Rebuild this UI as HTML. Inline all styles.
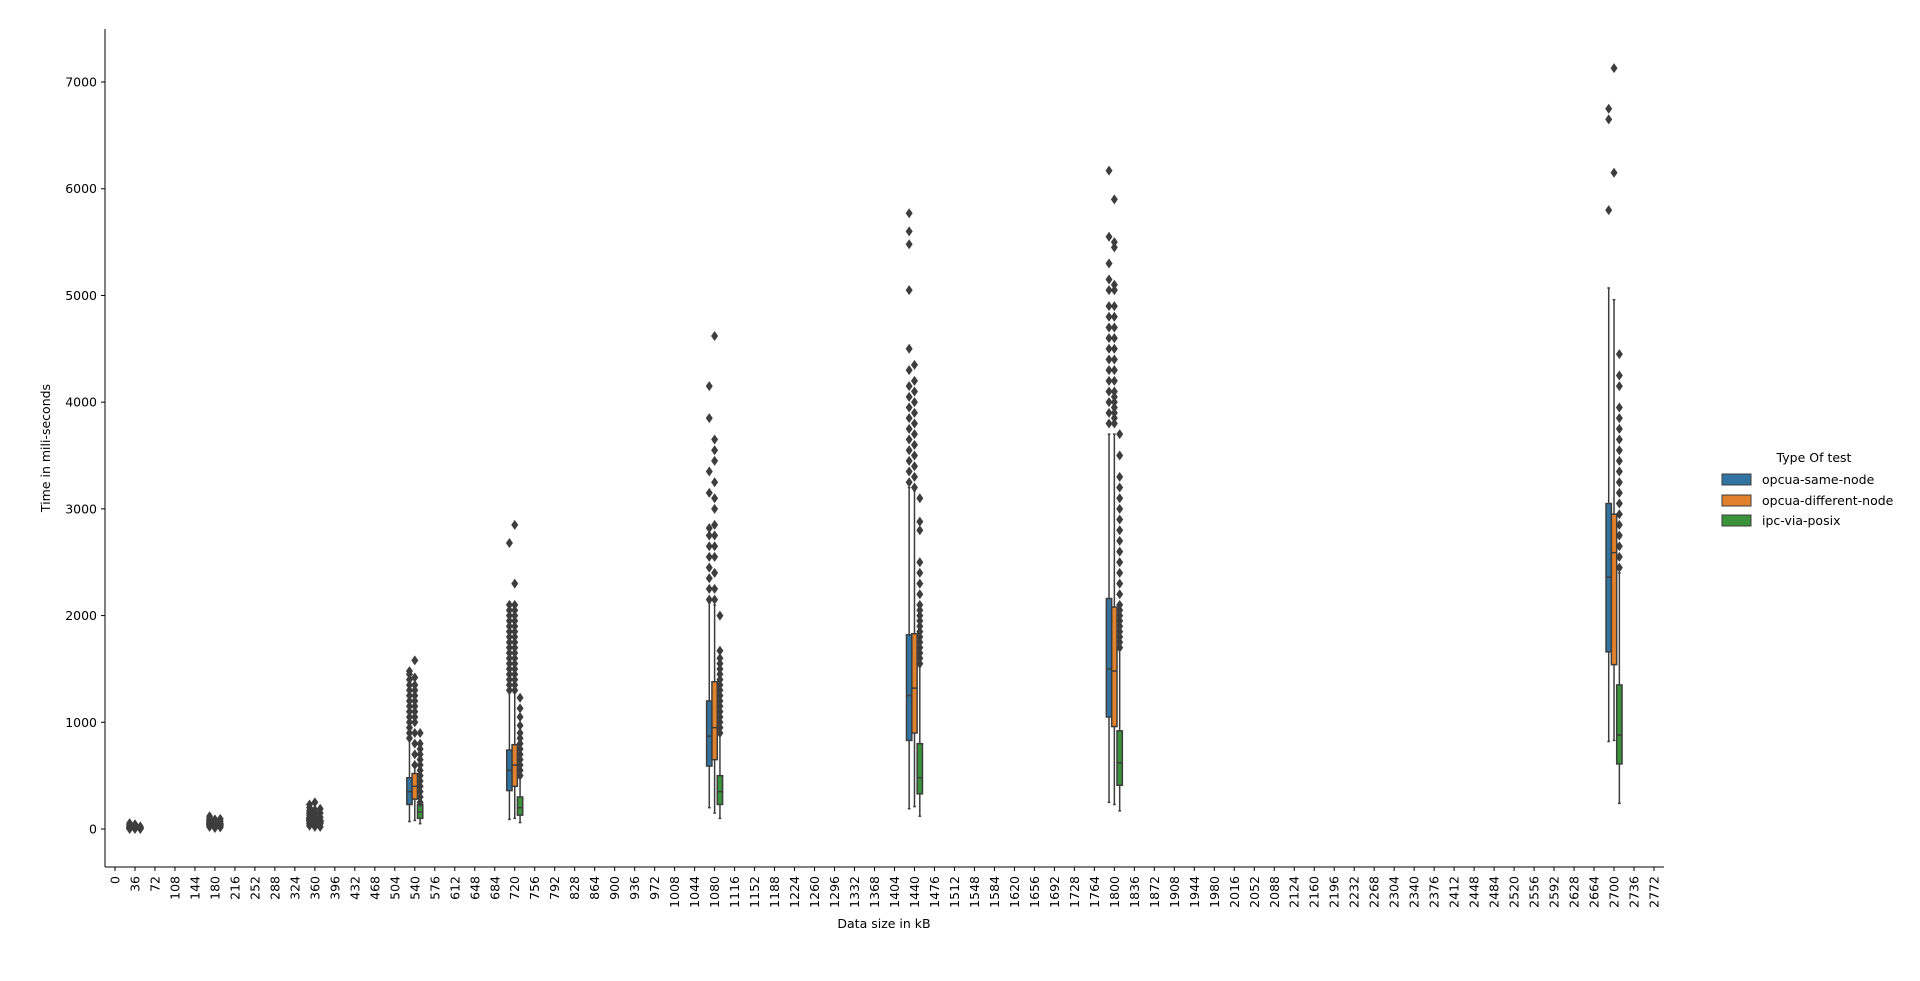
<!DOCTYPE html>
<html><head><meta charset="utf-8">
<style>
html,body{margin:0;padding:0;background:#fff;}
svg{display:block;font-family:"DejaVu Sans","Liberation Sans",sans-serif;}
</style></head>
<body>
<svg id="chart" width="1920" height="981" viewBox="0 0 1920 981" xmlns="http://www.w3.org/2000/svg">
<g id="plot"></g>
<g id="axes"></g>
<text x="884" y="928" font-size="12.5" text-anchor="middle" fill="#000">Data size in kB</text>
<text x="0" y="0" font-size="12.5" text-anchor="middle" fill="#000" transform="translate(50,448) rotate(-90)">Time in mili-seconds</text>
<g>
<text x="1814" y="462" font-size="12.5" text-anchor="middle" fill="#000">Type Of test</text>
<g><rect x="1722" y="474" width="29" height="11" fill="#3274a1" stroke="#3d3d3d" stroke-width="1"/><text x="1762" y="484" font-size="12.5" fill="#000">opcua-same-node</text></g>
<g><rect x="1722" y="495" width="29" height="11" fill="#e1812c" stroke="#3d3d3d" stroke-width="1"/><text x="1762" y="505" font-size="12.5" fill="#000">opcua-different-node</text></g>
<g><rect x="1722" y="515" width="29" height="11" fill="#3a923a" stroke="#3d3d3d" stroke-width="1"/><text x="1762" y="525" font-size="12.5" fill="#000">ipc-via-posix</text></g>
</g>
</svg>
<script>
// ---- data ----
const tickLabels = [];
for (let i = 0; i <= 77; i++) tickLabels.push(String(i * 36));
const dataCats = [1, 5, 10, 15, 20, 30, 40, 50, 75]; // category indices 36,180,360,540,720,1080,1440,1800,2700
const yTicks = [0, 1000, 2000, 3000, 4000, 5000, 6000, 7000];
const hues = ['opcua-same-node', 'opcua-different-node', 'ipc-via-posix'];
const hueColors = ['#3274a1', '#e1812c', '#3a923a'];
// [lo, q1, med, q3, hi] per category per hue
const statsSame = [[5,10,15,20,25],[40,45,50,55,60],[70,80,90,100,110],[70,230,350,480,840],[90,360,550,740,1280],[200,590,870,1200,2120],[190,830,1250,1820,3200],[250,1050,1500,2160,3700],[820,1660,2360,3050,5070]];
const statsDiff = [[5,10,12,18,22],[35,40,45,50,55],[60,70,80,95,105],[80,280,400,520,580],[100,400,600,790,1280],[150,650,950,1380,2100],[210,900,1320,1830,3170],[230,960,1480,2080,3700],[830,1540,2590,2950,4960]];
const statsIpc = [[3,5,8,10,12],[30,35,40,45,50],[50,60,70,80,90],[50,100,160,230,240],[60,130,200,300,480],[100,230,350,500,880],[120,330,480,800,1520],[170,410,620,920,1680],[240,610,880,1350,2400]];
const outSame = [[0,5,10,15,20,30,40,55],[20,30,40,50,60,70,80,90,100,120],[30,50,70,90,110,130,150,170,200,230],[850,900,950,1000,1050,1100,1150,1200,1250,1300,1350,1400,1450,1480],[1300,1350,1400,1450,1500,1550,1600,1650,1700,1750,1800,1850,1900,1950,2000,2050,2100,2680],[2150,2250,2350,2450,2550,2650,2750,2820,3150,3350,3850,4150],[3250,3350,3450,3550,3650,3750,3850,3950,4050,4150,4300,4500,5050,5480,5600,5770],[3800,3900,4000,4100,4200,4300,4400,4500,4600,4700,4800,4900,5050,5150,5300,5550,6170],[5800,6650,6750]];
const outDiff = [[0,10,20,30,45],[10,25,40,55,70,90],[20,40,60,80,100,120,140,160,180,250],[600,700,800,900,1000,1050,1100,1150,1200,1250,1300,1350,1420,1580],[1300,1350,1400,1450,1500,1550,1600,1650,1700,1750,1800,1850,1900,1950,2000,2050,2100,2300,2850],[2150,2250,2400,2550,2650,2750,2850,3000,3100,3250,3450,3550,3650,4620],[3200,3300,3400,3500,3600,3700,3800,3900,4000,4100,4200,4350],[3800,3850,3900,3950,4000,4050,4100,4200,4300,4400,4500,4600,4700,4800,4900,5050,5100,5450,5500,5900],[6150,7130]];
const outIpc = [[0,8,15,25],[15,30,50,70,95],[20,50,80,110,150,190],[250,300,350,400,450,500,550,600,650,700,750,800,900],[500,550,600,650,700,750,800,850,900,970,1050,1130,1230],[900,950,1000,1050,1100,1150,1200,1250,1300,1350,1400,1450,1500,1550,1600,1670,2000],[1550,1600,1650,1700,1750,1800,1850,1900,1950,2000,2050,2100,2200,2300,2400,2500,2800,2880,3100],[1700,1750,1800,1850,1900,1950,2000,2050,2100,2200,2300,2400,2500,2600,2700,2800,2900,3000,3100,3200,3300,3500,3700],[2450,2550,2650,2750,2850,2950,3050,3150,3250,3350,3450,3550,3650,3750,3850,3950,4150,4250,4450]];

// ---- scales ----
const X0 = 105, X1 = 1664, Y0 = 867, Y1 = 29;
const yMin = -356, yMax = 7497;
const nCat = tickLabels.length;
const step = (X1 - X0) / nCat;
function xScale(i) { return X0 + (i + 0.5) * step; }
function yScale(v) { return Y0 - (v - yMin) / (yMax - yMin) * (Y0 - Y1); }
const NS = 'http://www.w3.org/2000/svg';
function mk(tag, attrs, parent) { const e = document.createElementNS(NS, tag); for (const k in attrs) e.setAttribute(k, attrs[k]); parent.appendChild(e); return e; }

const axes = document.getElementById('axes');
const plot = document.getElementById('plot');
const yl = mk('line', {x1: X0, y1: Y1, x2: X0, y2: Y0, stroke: '#000', 'stroke-width': 1}, axes);


const xl = mk('line', {x1: X0, y1: Y0, x2: X1, y2: Y0, stroke: '#000', 'stroke-width': 1}, axes);


yTicks.forEach(v => {
  const y = yScale(v);
  const t = mk('line', {x1: X0 - 4, y1: y, x2: X0, y2: y, stroke: '#000'}, axes);
  
  
  const tx = mk('text', {x: X0 - 8, y: y + 4.5, 'font-size': 12.5, 'text-anchor': 'end', fill: '#000'}, axes);
  tx.textContent = String(v);
  
  
});
tickLabels.forEach((lab, i) => {
  const x = xScale(i);
  const t = mk('line', {x1: x, y1: Y0, x2: x, y2: Y0 + 4, stroke: '#000'}, axes);
  
  
  const tx = mk('text', {x: 0, y: 0, 'font-size': 12.5, 'text-anchor': 'end', fill: '#000', transform: 'translate(' + (x + 4.5) + ',' + (Y0 + 9) + ') rotate(-90)'}, axes);
  tx.textContent = lab;
  
  
});
const allStats = [statsSame, statsDiff, statsIpc];
const allOut = [outSame, outDiff, outIpc];
const bw = step * 0.8 / 3;
dataCats.forEach((ci, k) => {
  for (let h = 0; h < 3; h++) {
    const cx = xScale(ci) + (h - 1) * bw;
    const s = allStats[h][k];
    const g = mk('g', {}, plot);
    
    
    const ln = {stroke: '#3d3d3d', 'stroke-width': 1.5};
    mk('line', Object.assign({x1: cx, x2: cx, y1: yScale(s[0]), y2: yScale(s[1])}, ln), g);
    mk('line', Object.assign({x1: cx, x2: cx, y1: yScale(s[3]), y2: yScale(s[4])}, ln), g);
    mk('line', Object.assign({x1: cx - bw / 4, x2: cx + bw / 4, y1: yScale(s[0]), y2: yScale(s[0])}, ln), g);
    mk('line', Object.assign({x1: cx - bw / 4, x2: cx + bw / 4, y1: yScale(s[4]), y2: yScale(s[4])}, ln), g);
    mk('rect', {x: cx - bw / 2, y: yScale(s[3]), width: bw, height: Math.max(0.5, yScale(s[1]) - yScale(s[3])), fill: hueColors[h], stroke: '#3d3d3d', 'stroke-width': 1.5}, g);
    mk('line', Object.assign({x1: cx - bw / 2, x2: cx + bw / 2, y1: yScale(s[2]), y2: yScale(s[2])}, ln), g);
    allOut[h][k].forEach(v => {
      const y = yScale(v);
      const d = mk('polygon', {points: (cx) + ',' + (y - 5) + ' ' + (cx + 3.5) + ',' + y + ' ' + cx + ',' + (y + 5) + ' ' + (cx - 3.5) + ',' + y, fill: '#3d3d3d'}, g);
      
      
    });
  }
});
</script>
</body></html>
